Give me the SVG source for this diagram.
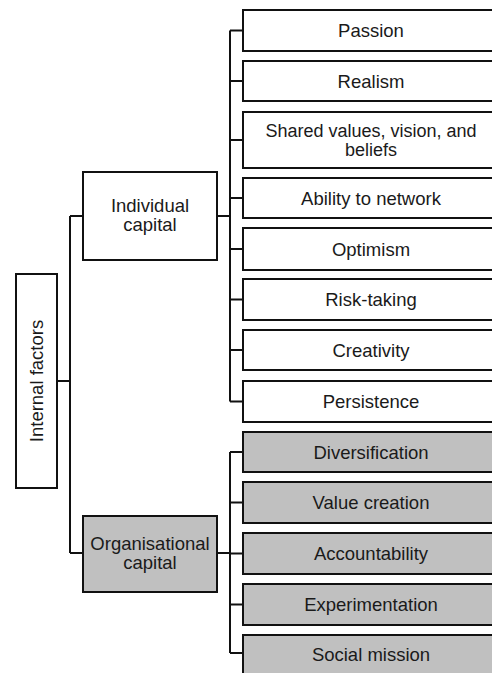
<svg xmlns="http://www.w3.org/2000/svg" width="492" height="673" viewBox="0 0 492 673">
<style>
rect{stroke:#111;stroke-width:2}
.w{fill:#fff}
.g{fill:#c0c0c0}
text{font-family:"Liberation Sans",Arial,sans-serif;font-size:18.5px;fill:#1a1a1a;text-anchor:middle}
.s{font-size:18px}
#connectors path{fill:none;stroke:#111;stroke-width:2}
</style>
<rect x="0" y="0" width="492" height="673" fill="#fff" style="stroke:none"/>
<g id="connectors">
<path d="M57 381H70M70 216V553M70 216H83M70 553H83"/>
<path d="M217 216H230M230 30.5V401.5M230 30.5H243M230 81H243M230 140H243M230 198H243M230 249H243M230 299.5H243M230 350H243M230 401.5H243"/>
<path d="M217 553H230M230 452V653M230 452H243M230 502.5H243M230 553.5H243M230 604.5H243M230 653H243"/>
</g>
<g id="internal-factors"><rect class="w" x="16" y="274" width="41" height="214"/><text transform="translate(43 381) rotate(-90)">Internal factors</text></g>
<g id="individual-capital"><rect class="w" x="83" y="172" width="134" height="88"/><text x="150" y="212">Individual</text><text x="150" y="231">capital</text></g>
<g id="organisational-capital"><rect class="g" x="83" y="516" width="134" height="76"/><text x="150" y="550">Organisational</text><text x="150" y="569">capital</text></g>
<g id="passion"><rect class="w" x="243" y="10" width="260" height="41"/><text x="371" y="37">Passion</text></g>
<g id="realism"><rect class="w" x="243" y="61" width="260" height="40"/><text x="371" y="87.5">Realism</text></g>
<g id="shared-values"><rect class="w" x="243" y="112" width="260" height="56"/><text class="s" x="371" y="136.5">Shared values, vision, and</text><text class="s" x="371" y="155.5">beliefs</text></g>
<g id="ability"><rect class="w" x="243" y="178" width="260" height="40"/><text x="371" y="204.5">Ability to network</text></g>
<g id="optimism"><rect class="w" x="243" y="228" width="260" height="42"/><text x="371" y="255.5">Optimism</text></g>
<g id="risk-taking"><rect class="w" x="243" y="279" width="260" height="41"/><text x="371" y="306">Risk-taking</text></g>
<g id="creativity"><rect class="w" x="243" y="330" width="260" height="40"/><text x="371" y="356.5">Creativity</text></g>
<g id="persistence"><rect class="w" x="243" y="381" width="260" height="41"/><text x="371" y="408">Persistence</text></g>
<g id="diversification"><rect class="g" x="243" y="432" width="260" height="40"/><text x="371" y="458.5">Diversification</text></g>
<g id="value-creation"><rect class="g" x="243" y="482" width="260" height="41"/><text x="371" y="509">Value creation</text></g>
<g id="accountability"><rect class="g" x="243" y="533" width="260" height="41"/><text x="371" y="560">Accountability</text></g>
<g id="experimentation"><rect class="g" x="243" y="584" width="260" height="41"/><text x="371" y="611">Experimentation</text></g>
<g id="social-mission"><rect class="g" x="243" y="635" width="260" height="41"/><text x="371" y="661">Social mission</text></g>
</svg>
